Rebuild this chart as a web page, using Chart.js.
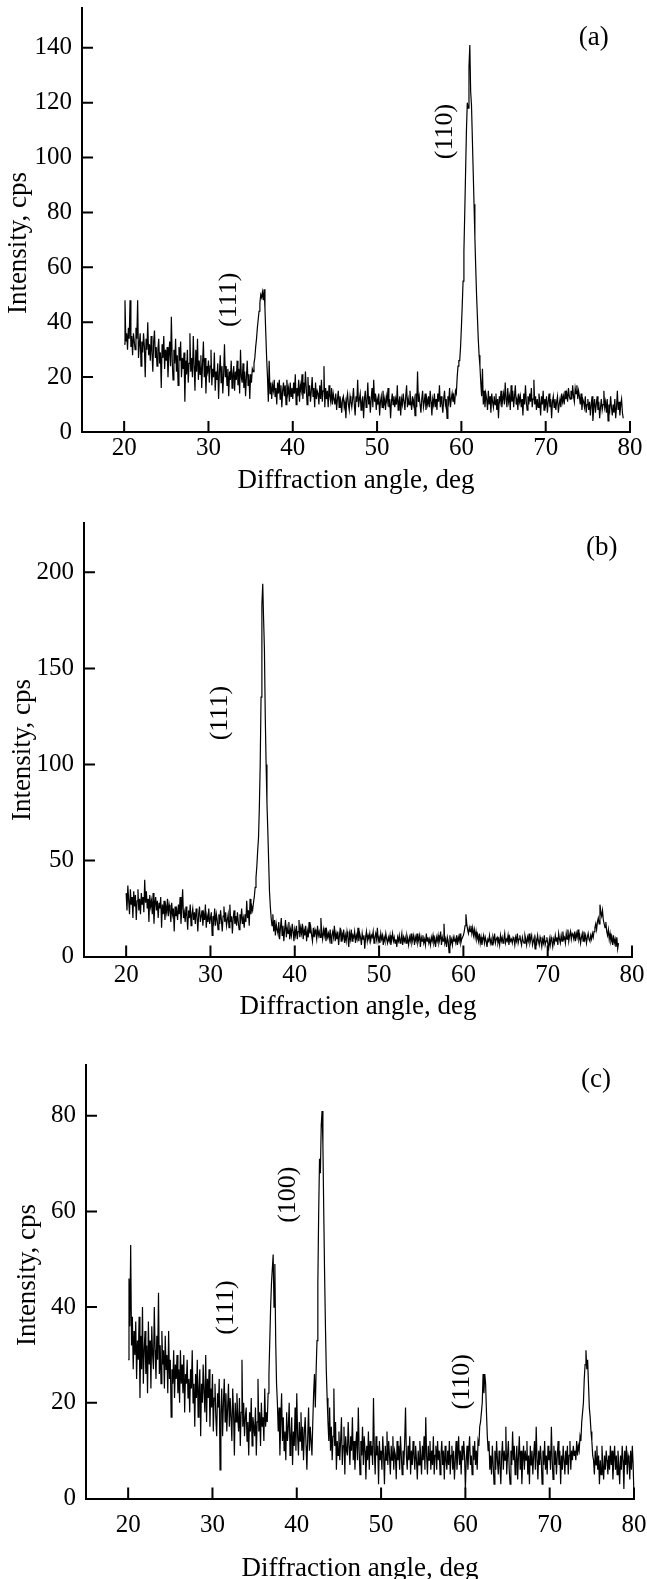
<!DOCTYPE html>
<html lang="en">
<head>
<meta charset="UTF-8">
<title>XRD patterns (a), (b), (c)</title>
<script src="https://cdn.jsdelivr.net/npm/chart.js"></script>
<style>
  body {
    margin: 0;
    background: #fff;
    width: 647px;
    height: 1579px;
    position: relative;
    overflow: hidden;
  }
  canvas {
    position: absolute;
    left: 0;
  }
</style>
</head>
<body>
<canvas id="chartA" width="647" height="500" style="top:0"></canvas>
<canvas id="chartB" width="647" height="540" style="top:500px"></canvas>
<canvas id="chartC" width="647" height="560" style="top:1040px"></canvas>
<script>
// scan grid: 2θ from 20 deg, one reading every 0.1 deg
const angleStart = 20;
const angleStep = 0.1;

const xTicks = [20, 30, 40, 50, 60, 70, 80];
const yTicksA = [0, 20, 40, 60, 80, 100, 120, 140];
const yTicksB = [0, 50, 100, 150, 200];
const yTicksC = [0, 20, 40, 60, 80];

// panel (a), 20.0 .. 79.2 deg (one row = 1 deg)
const intensityA = [
  32, 48, 33, 36, 30, 38, 34, 48, 31, 35,
  28, 36, 33, 30, 38, 34, 48, 27, 32, 36,
  24, 33, 29, 36, 31, 20, 34, 30, 40, 28,
  32, 26, 35, 29, 22, 33, 37, 27, 31, 24,
  30, 34, 25, 29, 16, 32, 27, 35, 23, 30,
  26, 31, 20, 28, 33, 24, 42, 26, 19, 30,
  25, 34, 22, 28, 17, 31, 26, 33, 20, 27,
  23, 29, 11, 26, 21, 30, 18, 25, 36, 22,
  27, 20, 35, 24, 15, 30, 22, 34, 19, 26,
  21, 28, 16, 25, 33, 20, 27, 14, 24, 22,
  26, 18, 24, 30, 17, 23, 20, 29, 15, 22,
  19, 25, 12, 22, 28, 18, 24, 14, 21, 32,
  20, 24, 17, 23, 13, 22, 19, 26, 16, 21,
  24, 15, 22, 19, 26, 17, 23, 14, 30, 20,
  18, 25, 16, 22, 13, 20, 26, 17, 21, 12,
  21, 18, 23, 22, 25, 27, 31, 34, 38, 41,
  44, 47, 50, 49, 51, 48, 52, 45, 36, 27,
  20, 11, 26, 14, 18, 12, 17, 15, 19, 13,
  16, 10, 18, 14, 19, 12, 17, 9, 15, 18,
  13, 17, 10, 19, 14, 16, 11, 18, 13, 16,
  12, 18, 14, 21, 10, 16, 13, 19, 11, 17,
  15, 21, 12, 18, 14, 22, 16, 10, 20, 13,
  17, 11, 15, 20, 13, 16, 9, 18, 12, 15,
  14, 10, 17, 12, 19, 11, 15, 24, 9, 16,
  12, 15, 9, 17, 13, 11, 16, 10, 14, 12,
  10, 14, 8, 12, 15, 9, 13, 11, 7, 12,
  13, 9, 11, 5, 12, 14, 10, 8, 13, 11,
  9, 12, 16, 10, 6, 13, 11, 19, 9, 12,
  14, 8, 11, 13, 5, 12, 15, 9, 11, 18,
  10, 13, 7, 12, 16, 9, 19, 11, 14, 8,
  12, 10, 14, 6, 11, 13, 9, 15, 10, 12,
  8, 13, 11, 16, 9, 12, 5, 11, 14, 10,
  13, 9, 12, 10, 17, 8, 11, 13, 6, 12,
  10, 14, 11, 8, 13, 17, 9, 12, 10, 15,
  11, 8, 13, 10, 12, 6, 14, 9, 22, 11,
  13, 10, 7, 12, 15, 9, 11, 14, 8, 12,
  10, 13, 9, 15, 11, 6, 12, 10, 14, 9,
  12, 8, 14, 11, 17, 9, 13, 10, 7, 12,
  15, 10, 12, 5, 13, 11, 16, 9, 12, 14,
  11, 13, 10, 15, 14, 20, 24, 26, 26, 31,
  38, 46, 55, 66, 80, 95, 110, 120, 118, 133,
  141, 124, 119, 107, 95, 83, 71, 60, 50, 42,
  34, 28, 24, 18, 13, 23, 10, 15, 9, 14,
  12, 8, 15, 10, 13, 7, 14, 11, 9, 13,
  10, 14, 8, 12, 5, 13, 11, 15, 9, 12,
  14, 10, 18, 12, 9, 16, 11, 13, 8, 17,
  11, 15, 9, 13, 17, 10, 12, 8, 14, 11,
  13, 9, 12, 6, 14, 10, 17, 11, 8, 13,
  10, 14, 11, 16, 9, 12, 19, 10, 13, 8,
  12, 9, 14, 11, 6, 13, 10, 15, 8, 12,
  10, 13, 7, 11, 14, 9, 12, 5, 11, 13,
  9, 12, 8, 11, 13, 7, 10, 12, 9, 14,
  11, 13, 10, 15, 12, 14, 11, 16, 13, 12,
  15, 12, 17, 13, 11, 16, 14, 17, 12, 15,
  13, 10, 14, 8, 12, 11, 9, 13, 7, 10,
  12, 8, 11, 6, 10, 13, 4, 9, 12, 7,
  10, 13, 8, 11, 5, 9, 12, 8, 10, 15,
  9, 11, 7, 12, 4, 10, 8, 13, 9, 6,
  10, 7, 12, 5, 9, 15, 8, 11, 6, 10,
  12, 7, 5
];

// panel (b), 20.0 .. 78.4 deg
const intensityB = [
  33, 24, 37, 29, 22, 35, 27, 31, 20, 34,
  26, 32, 19, 29, 35, 24, 30, 22, 33, 27,
  31, 23, 40, 28, 34, 25, 30, 18, 32, 26,
  29, 22, 33, 17, 27, 31, 24, 29, 20, 28,
  25, 31, 15, 27, 22, 29, 19, 26, 23, 30,
  21, 27, 24, 18, 28, 22, 25, 13, 26, 21,
  24, 19, 27, 22, 31, 17, 25, 35, 20, 23,
  18, 26, 21, 14, 24, 20, 27, 16, 22, 25,
  19, 23, 17, 25, 21, 13, 22, 26, 18, 21,
  24, 16, 22, 19, 27, 15, 21, 18, 25, 17,
  20, 23, 11, 21, 18, 25, 16, 22, 19, 14,
  22, 17, 24, 19, 13, 21, 26, 18, 23, 16,
  19, 22, 15, 27, 18, 21, 12, 20, 24, 17,
  21, 16, 23, 18, 14, 22, 19, 25, 17, 20,
  15, 22, 18, 29, 20, 24, 16, 30, 22, 26,
  24, 28, 31, 36, 41, 47, 55, 62, 78, 100,
  135, 183, 194, 176, 160, 125, 100, 80, 66, 50,
  34, 26, 20, 16, 22, 13, 19, 11, 17, 14,
  12, 18, 9, 15, 20, 11, 16, 8, 14, 19,
  10, 15, 12, 18, 9, 14, 11, 17, 13, 8,
  14, 11, 16, 9, 13, 19, 10, 15, 12, 17,
  9, 14, 11, 16, 8, 13, 10, 18, 12, 15,
  11, 8, 15, 10, 14, 12, 9, 16, 11, 13,
  10, 20, 12, 9, 14, 11, 15, 8, 13, 10,
  12, 9, 14, 7, 11, 13, 10, 16, 8, 12,
  9, 13, 6, 11, 15, 8, 12, 10, 14, 7,
  11, 8, 13, 10, 5, 12, 9, 14, 8, 11,
  10, 13, 7, 11, 9, 15, 8, 12, 10, 6,
  12, 9, 11, 4, 10, 13, 8, 11, 9, 12,
  8, 11, 10, 13, 7, 10, 12, 9, 15, 8,
  10, 7, 12, 9, 11, 6, 10, 8, 12, 9,
  7, 10, 8, 11, 6, 9, 12, 8, 10, 7,
  9, 5, 10, 8, 11, 7, 9, 12, 6, 10,
  8, 10, 7, 11, 9, 6, 10, 8, 12, 7,
  9, 11, 6, 10, 8, 12, 7, 9, 11, 5,
  10, 8, 11, 7, 9, 6, 12, 8, 10, 7,
  9, 6, 10, 8, 11, 7, 9, 5, 10, 8,
  11, 7, 9, 13, 6, 10, 8, 17, 7, 9,
  5, 10, 8, 2, 11, 7, 9, 6, 10, 8,
  9, 7, 11, 6, 10, 8, 12, 7, 9, 10,
  11, 13, 16, 22, 17, 14, 12, 15, 13, 16,
  12, 15, 11, 14, 10, 13, 9, 11, 8, 12,
  7, 10, 6, 9, 11, 7, 10, 8, 5, 9,
  8, 11, 7, 9, 6, 10, 8, 12, 7, 9,
  10, 7, 9, 6, 11, 8, 10, 7, 9, 12,
  7, 9, 8, 11, 6, 10, 8, 9, 7, 10,
  9, 6, 10, 8, 12, 7, 9, 11, 8, 6,
  10, 8, 7, 11, 9, 6, 10, 8, 12, 7,
  9, 11, 6, 8, 10, 4, 9, 7, 11, 8,
  6, 10, 8, 5, 9, 7, 11, 6, 8, 10,
  7, 3, 9, 6, 10, 8, 5, 9, 7, 11,
  8, 10, 6, 12, 9, 7, 11, 8, 13, 9,
  10, 7, 12, 9, 14, 8, 11, 13, 9, 12,
  11, 9, 13, 8, 12, 10, 14, 9, 11, 7,
  10, 12, 8, 13, 9, 11, 7, 10, 12, 9,
  8, 11, 9, 12, 10, 13, 15, 17, 14, 18,
  20, 17, 27, 23, 21, 24, 19, 17, 15, 18,
  13, 11, 14, 9, 12, 8, 10, 6, 11, 7,
  9, 5, 10, 4, 7
];

// panel (c), 20.0 .. 80.4 deg
const intensityC = [
  29, 46, 36, 53, 32, 38, 27, 35, 30, 37,
  25, 33, 29, 38, 21, 34, 27, 40, 24, 31,
  35, 26, 32, 22, 37, 28, 33, 23, 36, 30,
  27, 40, 31, 25, 34, 29, 43, 26, 32, 24,
  35, 28, 31, 23, 34, 27, 30, 22, 35, 25,
  29, 17, 27, 24, 31, 21, 28, 25, 30, 22,
  27, 20, 31, 24, 28, 22, 30, 18, 26, 24,
  29, 21, 25, 18, 27, 23, 31, 20, 24, 15,
  26, 21, 29, 17, 23, 27, 13, 24, 20, 28,
  22, 18, 30, 16, 25, 21, 27, 15, 23, 19,
  26, 14, 21, 24, 17, 13, 22, 19, 25, 6,
  18, 23, 13, 20, 25, 16, 22, 14, 19, 24,
  15, 21, 17, 12, 23, 18, 9, 20, 16, 22,
  17, 14, 21, 11, 18, 29, 15, 20, 13, 17,
  19, 12, 16, 9, 18, 14, 21, 11, 17, 15,
  13, 19, 9, 16, 25, 14, 18, 11, 20, 15,
  17, 12, 23, 15, 18, 16, 22, 26, 33, 40,
  45, 48, 51, 40, 49, 33, 24, 20, 14, 19,
  9, 16, 22, 12, 17, 10, 14, 8, 18, 12,
  15, 20, 9, 13, 17, 7, 14, 11, 19, 10,
  22, 13, 9, 16, 12, 18, 10, 15, 8, 14,
  17, 11, 6, 13, 19, 10, 15, 12, 9, 16,
  22, 26, 19, 27, 33, 45, 60, 71, 68, 78,
  81, 74, 60, 47, 36, 27, 21, 16, 12, 19,
  10, 15, 8, 13, 23, 11, 16, 6, 12, 9,
  14, 8, 12, 17, 7, 11, 15, 5, 13, 10,
  9, 16, 11, 7, 13, 10, 17, 8, 12, 6,
  11, 14, 8, 19, 10, 5, 12, 9, 15, 7,
  13, 10, 4, 11, 8, 14, 6, 12, 9, 11,
  7, 21, 10, 5, 13, 9, 11, 3, 12, 8,
  10, 6, 13, 9, 3, 11, 8, 14, 7, 12,
  9, 5, 11, 8, 13, 6, 10, 9, 4, 12,
  8, 11, 6, 13, 9, 5, 10, 7, 12, 19,
  9, 6, 11, 8, 13, 5, 10, 7, 12, 9,
  6, 11, 8, 4, 10, 7, 12, 9, 5, 11,
  8, 13, 6, 17, 9, 5, 11, 8, 12, 6,
  10, 7, 13, 5, 9, 11, 6, 12, 8, 10,
  5, 9, 12, 7, 10, 4, 11, 8, 6, 10,
  7, 12, 5, 9, 11, 6, 10, 4, 8, 12,
  6, 9, 13, 7, 10, 5, 11, 8, 12, 9,
  2, 8, 11, 6, 10, 13, 7, 9, 5, 11,
  8, 12, 7, 10, 6, 12, 11, 15, 16, 18,
  20, 26, 22, 26, 24, 18, 13, 10, 12, 6,
  9, 5, 11, 7, 3, 10, 6, 12, 8, 5,
  10, 7, 3, 9, 12, 6, 10, 8, 15, 5,
  9, 12, 6, 3, 10, 7, 14, 8, 11, 5,
  8, 11, 4, 9, 13, 6, 10, 3, 8, 11,
  6, 10, 8, 12, 5, 9, 3, 11, 7, 10,
  5, 9, 12, 6, 15, 8, 4, 10, 7, 11,
  8, 3, 10, 7, 12, 6, 9, 5, 11, 8,
  10, 6, 15, 8, 4, 11, 7, 10, 5, 9,
  12, 7, 10, 3, 9, 6, 11, 8, 5, 10,
  7, 11, 5, 9, 12, 6, 10, 8, 11, 9,
  10, 8, 12, 9, 11, 10, 13, 12, 16, 18,
  20, 25, 28, 31, 27, 29, 24, 19, 17, 14,
  12, 9, 8, 5, 10, 7, 11, 6, 9, 3,
  8, 5, 11, 7, 4, 9, 6, 10, 8, 5,
  9, 6, 11, 7, 10, 4, 8, 11, 6, 9,
  5, 10, 7, 3, 9, 6, 11, 8, 2, 10,
  7, 11, 5, 9, 8, 4, 10, 6, 11, 7,
  0, 8, 5, 9, 3
];

// reflection labels, anchored in data units (angle, intensity)
const peaksA = [
  { text: '(111)', angle: 32.4, intensity: 48.2 },
  { text: '(110)', angle: 58.1, intensity: 109.5 }
];
const peaksB = [
  { text: '(111)', angle: 31.2, intensity: 126.7 }
];
const peaksC = [
  { text: '(111)', angle: 31.6, intensity: 39.9 },
  { text: '(100)', angle: 39.0, intensity: 63.5 },
  { text: '(110)', angle: 59.6, intensity: 24.4 }
];

const serif = "'Liberation Serif', 'Times New Roman', serif";
Chart.defaults.font.family = serif;
Chart.defaults.color = '#000';

function toPoints(values) {
  return values.map((v, i) => ({
    x: Math.round((angleStart + i * angleStep) * 10) / 10,
    y: v
  }));
}

function makePanel(id, values, yTicks, yMax, peaks, letter, lay) {
  const ctx = document.getElementById(id).getContext('2d');

  // ticks point into the plot, the rotated labels and the y title
  const extras = {
    id: 'extras_' + id,
    afterDraw(chart) {
      const { ctx, chartArea, scales } = chart;
      const xs = scales.x, ys = scales.y;
      ctx.save();
      ctx.strokeStyle = '#000';
      ctx.lineWidth = 2;
      ctx.beginPath();
      xs.ticks.forEach(t => {
        const px = xs.getPixelForValue(t.value);
        ctx.moveTo(px, chartArea.bottom);
        ctx.lineTo(px, chartArea.bottom - 11);
      });
      ys.ticks.forEach(t => {
        if (t.value === 0) return;
        const py = ys.getPixelForValue(t.value);
        ctx.moveTo(chartArea.left, py);
        ctx.lineTo(chartArea.left + 11, py);
      });
      ctx.stroke();

      ctx.fillStyle = '#000';
      ctx.textAlign = 'center';
      ctx.textBaseline = 'middle';
      ctx.font = '26px ' + serif;
      peaks.forEach(p => {
        ctx.save();
        ctx.translate(xs.getPixelForValue(p.angle), ys.getPixelForValue(p.intensity));
        ctx.rotate(-Math.PI / 2);
        ctx.fillText(p.text, 0, 0);
        ctx.restore();
      });

      ctx.font = '27px ' + serif;
      ctx.fillText(letter.text, xs.getPixelForValue(letter.angle), ys.getPixelForValue(letter.intensity));

      ctx.save();
      ctx.translate(lay.yTitleX, lay.yTitleY);
      ctx.rotate(-Math.PI / 2);
      ctx.fillText('Intensity, cps', 0, 0);
      ctx.restore();
      ctx.restore();
    }
  };

  return new Chart(ctx, {
    type: 'line',
    data: {
      datasets: [{
        data: toPoints(values),
        borderColor: '#000',
        borderWidth: 1.2,
        pointRadius: 0,
        tension: 0,
        fill: false,
        clip: false
      }]
    },
    options: {
      responsive: false,
      animation: false,
      events: [],
      layout: { padding: { top: lay.padTop, right: lay.padRight, left: 0, bottom: 0 } },
      plugins: { legend: { display: false }, tooltip: { enabled: false } },
      scales: {
        x: {
          type: 'linear',
          min: 15,
          max: 80,
          afterBuildTicks: s => { s.ticks = xTicks.map(v => ({ value: v })); },
          afterFit: s => {
            s.height = lay.xAxisHeight;
            s.paddingLeft = s.paddingRight = s.paddingTop = s.paddingBottom = 0;
          },
          ticks: { font: { size: 25 }, padding: lay.xLabelPad, maxRotation: 0, autoSkip: false },
          grid: { drawOnChartArea: false, drawTicks: false },
          border: { display: true, color: '#000', width: 2 },
          title: {
            display: true,
            text: 'Diffraction angle, deg',
            font: { size: 27 },
            padding: { top: 0, bottom: lay.xTitlePad }
          }
        },
        y: {
          min: 0,
          max: yMax,
          afterBuildTicks: s => { s.ticks = yTicks.map(v => ({ value: v })); },
          afterFit: s => {
            s.width = lay.yAxisWidth;
            s.paddingLeft = s.paddingRight = s.paddingTop = s.paddingBottom = 0;
          },
          ticks: { font: { size: 25 }, padding: 10, autoSkip: false },
          grid: { drawOnChartArea: false, drawTicks: false },
          border: { display: true, color: '#000', width: 2 }
        }
      }
    },
    plugins: [extras]
  });
}

makePanel('chartA', intensityA, yTicksA, 154.5, peaksA,
  { text: '(a)', angle: 75.7, intensity: 143.6 },
  { padTop: 8, padRight: 17, yAxisWidth: 82, xAxisHeight: 68, xLabelPad: 1, xTitlePad: 3, yTitleX: 19, yTitleY: 243 });

makePanel('chartB', intensityB, yTicksB, 225.7, peaksB,
  { text: '(b)', angle: 76.4, intensity: 212.5 },
  { padTop: 23, padRight: 15, yAxisWidth: 84, xAxisHeight: 83.5, xLabelPad: 3.5, xTitlePad: 16.5, yTitleX: 22.5, yTitleY: 250 });

makePanel('chartC', intensityC, yTicksC, 90.6, peaksC,
  { text: '(c)', angle: 75.5, intensity: 87.5 },
  { padTop: 25, padRight: 13, yAxisWidth: 86, xAxisHeight: 101.5, xLabelPad: 11.5, xTitlePad: 14.8, yTitleX: 28.3, yTitleY: 235 });
</script>
</body>
</html>
